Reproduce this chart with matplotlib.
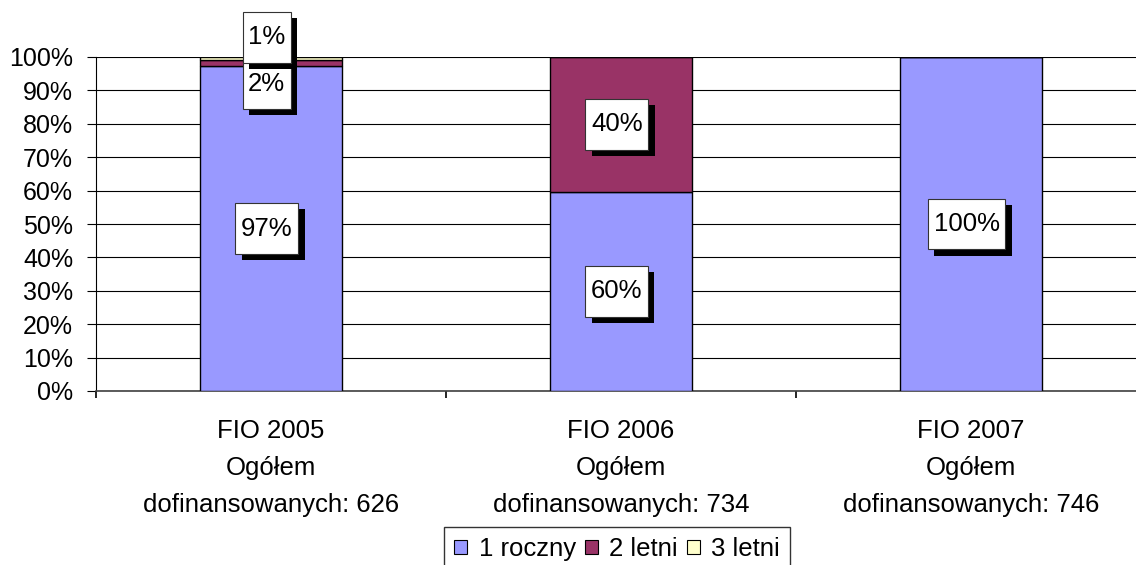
import numpy as np
import matplotlib.pyplot as plt
from matplotlib.path import Path
from matplotlib.patches import Patch
import matplotlib.patheffects as pe

plt.rcParams['font.family'] = ['Liberation Sans', 'DejaVu Sans']

categories = ['FIO 2005', 'FIO 2006', 'FIO 2007']
totals = [626, 734, 746]
series_names = ['1 roczny', '2 letni', '3 letni']
roczny = [97.3, 59.6, 100.0]
letni2 = [1.9, 40.4, 0.0]
letni3 = [0.8, 0.0, 0.0]
y_ticks = [0, 10, 20, 30, 40, 50, 60, 70, 80, 90, 100]

colors = ['#9999FF', '#993366', '#FFFFCC']
FS = 18.5


def label_box(x0, y0, width, height, mutation_size):
    # prostokat z wiekszym marginesem w pionie (jak w Excelu)
    px = 0.22 * mutation_size
    py = 0.52 * mutation_size
    return Path([(x0 - px, y0 - py), (x0 + width + px, y0 - py),
                 (x0 + width + px, y0 + height + py), (x0 - px, y0 + height + py),
                 (x0 - px, y0 - py)], closed=True)


fig = plt.figure(figsize=(11.36, 5.65), dpi=100)
ax = fig.add_axes([96 / 1136, 1 - 391 / 565, 1050 / 1136, 334 / 565])

x = np.arange(len(categories))
width = 0.405
series = [roczny, letni2, letni3]
bottom = np.zeros(len(categories))
bars = []
for vals, col in zip(series, colors):
    ax.bar(x, vals, width, bottom=bottom, color=col, edgecolor='black',
           linewidth=1.0, zorder=3)
    bars.append((vals, bottom.copy()))
    bottom += np.array(vals)

# przesuniecia etykiet (w pikselach), zeby sie nie nakladaly
offsets = {(1, 0): -21, (2, 0): 21}
for si, (vals, bot) in enumerate(bars):
    for ci, v in enumerate(vals):
        if v <= 0:
            continue
        yc = bot[ci] + v / 2
        t = ax.annotate(f'{v:.0f}%', xy=(x[ci] - 0.012, yc),
                        xytext=(0, offsets.get((si, ci), 0)),
                        textcoords='offset pixels', ha='center', va='center',
                        fontsize=FS, zorder=5, annotation_clip=False,
                        bbox=dict(boxstyle=label_box, facecolor='white',
                                  edgecolor='#333333', linewidth=0.8))
        t.get_bbox_patch().set_path_effects(
            [pe.withSimplePatchShadow(offset=(4.5, -4.5), shadow_rgbFace='black', alpha=1.0)])

ax.set_xlim(-0.5, 2.5)
ax.set_ylim(0, 100)
ax.set_yticks(y_ticks)
ax.set_yticklabels([f'{v}%' for v in y_ticks])
ax.yaxis.grid(True, color='black', linewidth=0.8)
ax.set_axisbelow(True)

ax.set_xticks(x)
ax.set_xticklabels([f'{c}\nOgółem\ndofinansowanych: {t}' for c, t in zip(categories, totals)],
                   linespacing=1.7)
ax.set_xticks(np.arange(-0.5, 3.0, 1.0), minor=True)
ax.tick_params(axis='x', which='major', length=0, pad=20, labelsize=FS)
ax.tick_params(axis='x', which='minor', length=5, width=1.2, color='black')
ax.tick_params(axis='y', length=6.5, width=0.8, pad=10, labelsize=FS - 0.5)

for s in ['top', 'right']:
    ax.spines[s].set_visible(False)
ax.spines['left'].set_color('black')
ax.spines['bottom'].set_color('#404040')
ax.spines['bottom'].set_linewidth(1.2)

handles = [Patch(facecolor=c, edgecolor='black', linewidth=0.8) for c in colors]
leg = fig.legend(handles, series_names, loc='upper left', ncol=3,
                 bbox_to_anchor=(444 / 1136, 1 - 527 / 565), bbox_transform=fig.transFigure,
                 borderaxespad=0, fontsize=FS, handlelength=0.5, handleheight=0.5,
                 handletextpad=0.45, columnspacing=0.35, borderpad=0.4,
                 fancybox=False, frameon=True)
leg.get_frame().set_edgecolor('black')
leg.get_frame().set_linewidth(1.0)

fig.savefig('out.png', dpi=100)
